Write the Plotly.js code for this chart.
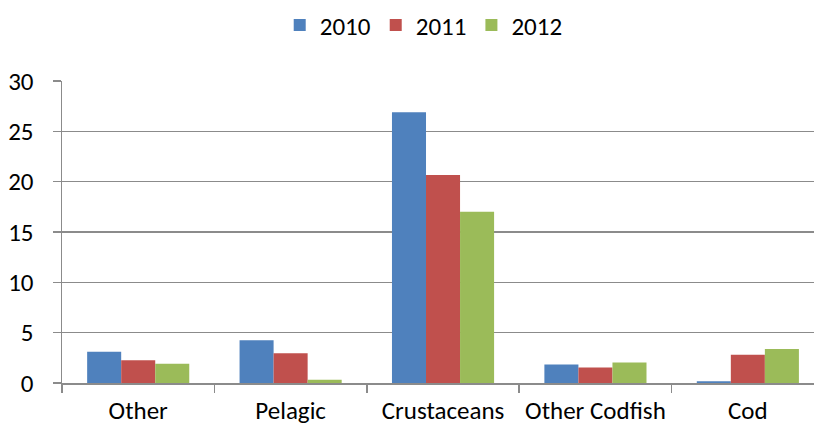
<!DOCTYPE html>
<html>
<head>
<meta charset="utf-8">
<script src="https://cdn.plot.ly/plotly-3.0.1.min.js"></script>
<style>html,body{margin:0;padding:0;background:#fff;}#chart{width:814px;height:428px;}</style>
</head>
<body>
<div id="chart"></div>
<script>
const categories = ["Other", "Pelagic", "Crustaceans", "Other Codfish", "Cod"];
const seriesNames = ["2010", "2011", "2012"];
const values2010 = [3.1, 4.25, 26.9, 1.83, 0.17];
const values2011 = [2.27, 2.95, 20.65, 1.53, 2.8];
const values2012 = [1.9, 0.33, 17.0, 2.03, 3.37];
const yTicks = [0, 5, 10, 15, 20, 25, 30];

const colors = ["#4F81BD", "#C0504D", "#9BBB59"];
const allValues = [values2010, values2011, values2012];
const font = "Carlito, 'Open Sans', 'Noto Sans', sans-serif";

const traces = allValues.map((v, i) => ({
  type: "bar",
  name: seriesNames[i],
  x: categories,
  y: v,
  marker: {color: colors[i], line: {width: 0}}
}));

const layout = {
  width: 814, height: 428,
  margin: {l: 62, r: 0, t: 81, b: 45},
  paper_bgcolor: "#fff", plot_bgcolor: "#fff",
  barmode: "group", bargap: 0.33, bargroupgap: 0,
  font: {family: font, size: 25, color: "#000"},
  showlegend: true,
  legend: {orientation: "h", x: 0.481, xanchor: "center", y: 1.185, yanchor: "middle",
           font: {family: font, size: 25, color: "#000"}, itemwidth: 30, tracegroupgap: 0},
  xaxis: {
    type: "category", range: [-0.5, 4.434],
    showline: true, linecolor: "#8B8B8B", linewidth: 1.5,
    ticks: "outside", tickson: "boundaries", ticklen: 8, tickcolor: "#8B8B8B", tickwidth: 1.5,
    showgrid: false, tickfont: {family: font, size: 25, color: "#000"},
    tickangle: 0, ticklabelstandoff: 4, automargin: false
  },
  yaxis: {
    range: [0, 30], tickvals: yTicks, ticktext: yTicks.map(String),
    showline: true, linecolor: "#8B8B8B", linewidth: 1.5,
    ticks: "outside", ticklen: 8, tickcolor: "#8B8B8B", tickwidth: 1.5,
    showgrid: true, gridcolor: "#8B8B8B", gridwidth: 1.5,
    zeroline: false, tickfont: {family: font, size: 25, color: "#000"},
    ticklabelstandoff: 14, automargin: false
  }
};

Plotly.newPlot("chart", traces, layout, {displayModeBar: false, staticPlot: true});
</script>
</body>
</html>
